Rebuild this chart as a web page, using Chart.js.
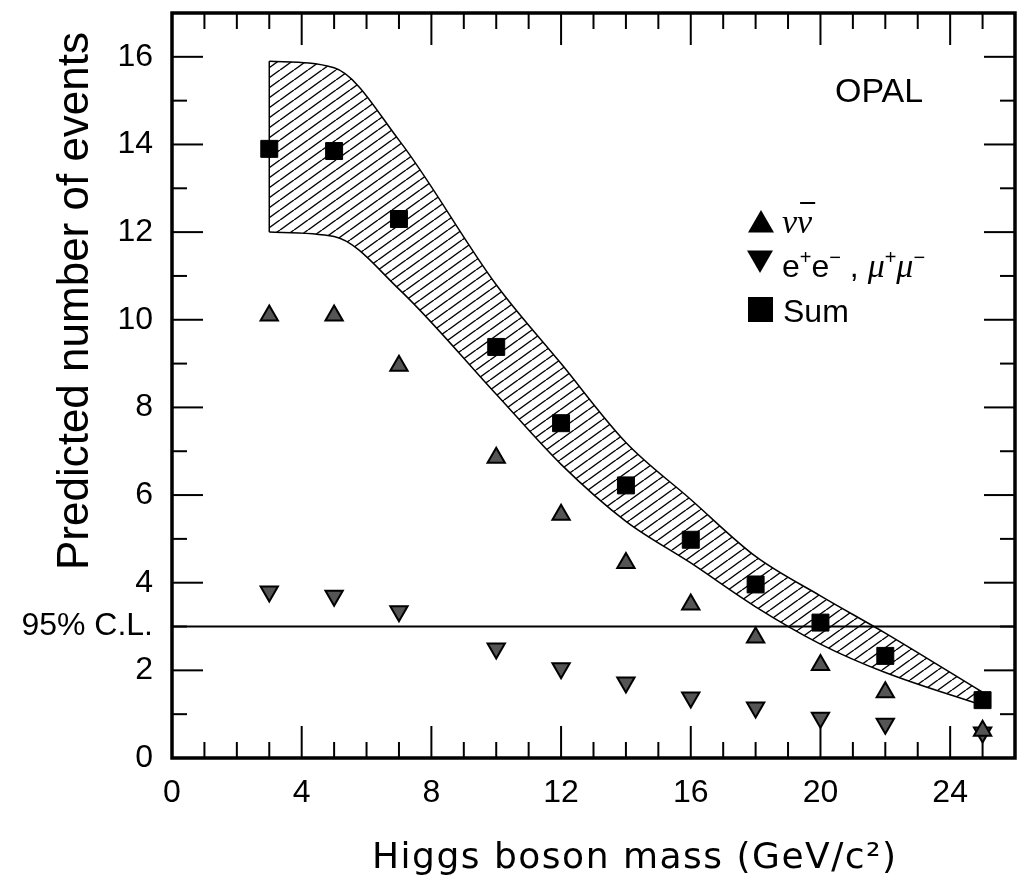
<!DOCTYPE html>
<html>
<head>
<meta charset="utf-8">
<title>Predicted number of events vs Higgs boson mass</title>
<script src="https://cdn.jsdelivr.net/npm/chart.js@4.4.1/dist/chart.umd.min.js"></script>
<style>
  html, body { margin: 0; padding: 0; background: #fff; overflow: hidden; }
  canvas { display: block; }
</style>
</head>
<body>
<canvas id="myChart" width="1028" height="880"></canvas>
<script>
// Higgs mass points (GeV/c^2)
const massPoints = [3, 5, 7, 10, 12, 14, 16, 18, 20, 22, 25];

// predicted events per channel
const nunuEvents = [10.1, 10.1, 8.95, 6.85, 5.55, 4.45, 3.5, 2.75, 2.12, 1.5, 0.62];
const llEvents   = [3.8, 3.7, 3.35, 2.5, 2.05, 1.72, 1.38, 1.15, 0.92, 0.78, 0.58];
const sumEvents  = [13.9, 13.85, 12.3, 9.38, 7.64, 6.22, 4.98, 3.96, 3.09, 2.33, 1.32];

// hatched band round the sum
const bandUpper = [15.9, 15.75, 14.1, 10.8, 9.0, 7.2, 5.9, 4.6, 3.7, 2.85, 1.5];
const bandLower = [12.0, 11.9, 10.7, 8.3, 6.7, 5.4, 4.45, 3.45, 2.6, 1.95, 1.2];

// axes
const xMin = 0, xMax = 26;
const yMin = 0, yMax = 17;
const xTickValues = [0, 4, 8, 12, 16, 20, 24];
const yTickValues = [0, 2, 4, 6, 8, 10, 12, 14, 16];
const clLevel = 3;
const clLabel = '95% C.L.';

const xTitle = 'Higgs boson mass (GeV/c²)';
const yTitle = 'Predicted number of events';
const expLabel = 'OPAL';

const sansFont = '"Liberation Sans", Arial, sans-serif';
const serifFont = '"Liberation Serif", "Times New Roman", serif';

function pts(xs, ys) {
  return xs.map((x, i) => ({ x: x, y: ys[i] }));
}

const canvas = document.getElementById('myChart');
const ctx0 = canvas.getContext('2d');

function hatchPattern() {
  const c = document.createElement('canvas');
  c.width = 14;
  c.height = 10;
  const g = c.getContext('2d');
  g.strokeStyle = '#000';
  g.lineWidth = 1.4;
  [-14, 0, 14].forEach(off => {
    g.beginPath();
    g.moveTo(off, 10);
    g.lineTo(off + 14, 0);
    g.stroke();
  });
  return ctx0.createPattern(c, 'repeat');
}

function line(ctx, x1, y1, x2, y2) {
  ctx.beginPath();
  ctx.moveTo(x1, y1);
  ctx.lineTo(x2, y2);
  ctx.stroke();
}

// inward ticks on all four sides plus the frame
const frameTicks = {
  id: 'frameTicks',
  afterDraw(chart) {
    const { ctx, chartArea: a, scales: { x, y } } = chart;
    ctx.save();
    ctx.strokeStyle = '#000';
    ctx.lineWidth = 2;
    for (let v = xMin + 1; v < xMax; v++) {
      const px = x.getPixelForValue(v);
      const len = v % 4 === 0 ? 32 : 16;
      line(ctx, px, a.bottom, px, a.bottom - len);
      line(ctx, px, a.top, px, a.top + len);
    }
    for (let v = yMin + 1; v < yMax; v++) {
      const py = y.getPixelForValue(v);
      const len = v % 2 === 0 ? 31 : 15;
      line(ctx, a.left, py, a.left + len, py);
      line(ctx, a.right, py, a.right - len, py);
    }
    ctx.lineWidth = 3.5;
    ctx.strokeRect(a.left, a.top, a.right - a.left, a.bottom - a.top);
    ctx.restore();
  }
};

function drawRuns(ctx, runs, x, y) {
  runs.forEach(r => {
    ctx.font = r.font;
    ctx.fillText(r.t, x, y + (r.dy || 0));
    x += ctx.measureText(r.t).width;
  });
}

function triangle(ctx, cx, cy, r, down) {
  const s = down ? -1 : 1;
  ctx.beginPath();
  ctx.moveTo(cx, cy - s * r);
  ctx.lineTo(cx + r * 0.866, cy + s * r / 2);
  ctx.lineTo(cx - r * 0.866, cy + s * r / 2);
  ctx.closePath();
  ctx.fill();
}

// titles, OPAL label and legend
const labels = {
  id: 'labels',
  afterDraw(chart) {
    const ctx = chart.ctx;
    ctx.save();
    ctx.fillStyle = '#000';
    ctx.strokeStyle = '#000';
    ctx.textBaseline = 'alphabetic';

    // y title
    ctx.save();
    ctx.translate(88, 301);
    ctx.rotate(-Math.PI / 2);
    ctx.textAlign = 'center';
    ctx.font = '44px ' + sansFont;
    ctx.fillText(yTitle, 0, 0);
    ctx.restore();

    // x title
    ctx.save();
    ctx.textAlign = 'left';
    ctx.font = '36px "DejaVu Sans", sans-serif';
    ctx.letterSpacing = '1.5px';
    ctx.fillText(xTitle, 372, 868);
    ctx.restore();

    ctx.textAlign = 'left';
    ctx.font = '34px ' + sansFont;
    ctx.fillText(expLabel, 835, 102);

    // legend
    triangle(ctx, 761, 225, 15, false);
    triangle(ctx, 760, 258, 15, true);
    ctx.fillRect(748, 297, 25, 25);

    ctx.font = 'italic 34px ' + serifFont;
    ctx.fillText('νν', 782, 233);
    const w1 = ctx.measureText('ν').width;
    const w2 = ctx.measureText('νν').width;
    ctx.lineWidth = 2;
    line(ctx, 782 + w1 + 3, 203, 782 + w2 + 3, 203);

    const sup = '20px ' + sansFont;
    const big = '32px ' + sansFont;
    const mu = 'italic 34px ' + serifFont;
    drawRuns(ctx, [
      { t: 'e', font: big }, { t: '+', font: sup, dy: -13 },
      { t: 'e', font: big }, { t: '−', font: sup, dy: -13 },
      { t: ' , ', font: big },
      { t: 'μ', font: mu }, { t: '+', font: sup, dy: -13 },
      { t: 'μ', font: mu }, { t: '−', font: sup, dy: -13 }
    ], 782, 277);

    ctx.font = big;
    ctx.fillText('Sum', 783, 322);
    ctx.restore();
  }
};

new Chart(canvas, {
  type: 'scatter',
  data: {
    datasets: [
      {
        label: 'Sum',
        data: pts(massPoints, sumEvents),
        pointStyle: 'rect',
        pointRadius: 12,
        backgroundColor: '#000',
        borderColor: '#000',
        borderWidth: 1
      },
      {
        label: 'nu nubar',
        data: pts(massPoints, nunuEvents),
        pointStyle: 'triangle',
        pointRadius: 10,
        backgroundColor: '#555',
        borderColor: '#000',
        borderWidth: 2
      },
      {
        label: 'e+e-, mu+mu-',
        data: pts(massPoints, llEvents),
        pointStyle: 'triangle',
        rotation: 180,
        pointRadius: 10,
        backgroundColor: '#555',
        borderColor: '#000',
        borderWidth: 2
      },
      {
        label: '95% C.L.',
        data: [{ x: xMin, y: clLevel }, { x: xMax, y: clLevel }],
        showLine: true,
        pointRadius: 0,
        borderColor: '#000',
        borderWidth: 2
      },
      {
        label: 'band left',
        data: [{ x: massPoints[0], y: bandLower[0] }, { x: massPoints[0], y: bandUpper[0] }],
        showLine: true,
        pointRadius: 0,
        borderColor: '#000',
        borderWidth: 1.5
      },
      {
        label: 'band right',
        data: [
          { x: massPoints[massPoints.length - 1], y: bandLower[bandLower.length - 1] },
          { x: massPoints[massPoints.length - 1], y: bandUpper[bandUpper.length - 1] }
        ],
        showLine: true,
        pointRadius: 0,
        borderColor: '#000',
        borderWidth: 1.5
      },
      {
        label: 'band upper',
        data: pts(massPoints, bandUpper),
        showLine: true,
        pointRadius: 0,
        borderColor: '#000',
        borderWidth: 1.5,
        cubicInterpolationMode: 'monotone',
        fill: '+1',
        backgroundColor: hatchPattern()
      },
      {
        label: 'band lower',
        data: pts(massPoints, bandLower),
        showLine: true,
        pointRadius: 0,
        borderColor: '#000',
        borderWidth: 1.5,
        cubicInterpolationMode: 'monotone',
        fill: false
      }
    ]
  },
  options: {
    responsive: false,
    animation: false,
    layout: { padding: { top: 12, right: 4, left: 0, bottom: 0 } },
    plugins: {
      legend: { display: false },
      tooltip: { enabled: false }
    },
    scales: {
      x: {
        type: 'linear',
        min: xMin,
        max: xMax,
        grid: { display: false, drawTicks: false },
        border: { display: false },
        afterBuildTicks: s => { s.ticks = xTickValues.map(v => ({ value: v })); },
        afterFit: s => {
          s.height = 122;
          s.paddingLeft = 0;
          s.paddingRight = 0;
        },
        ticks: {
          color: '#000',
          padding: 16,
          maxRotation: 0,
          font: { family: sansFont, size: 32 }
        }
      },
      y: {
        type: 'linear',
        min: yMin,
        max: yMax,
        grid: { display: false, drawTicks: false },
        border: { display: false },
        afterBuildTicks: s => {
          s.ticks = yTickValues.concat([clLevel]).sort((a, b) => a - b).map(v => ({ value: v }));
        },
        afterFit: s => {
          s.width = 172;
          s.paddingTop = 0;
          s.paddingBottom = 0;
        },
        ticks: {
          color: '#000',
          padding: 19,
          font: { family: sansFont, size: 32 },
          callback: v => v === clLevel ? clLabel : v
        }
      }
    }
  },
  plugins: [frameTicks, labels]
});
</script>
</body>
</html>
